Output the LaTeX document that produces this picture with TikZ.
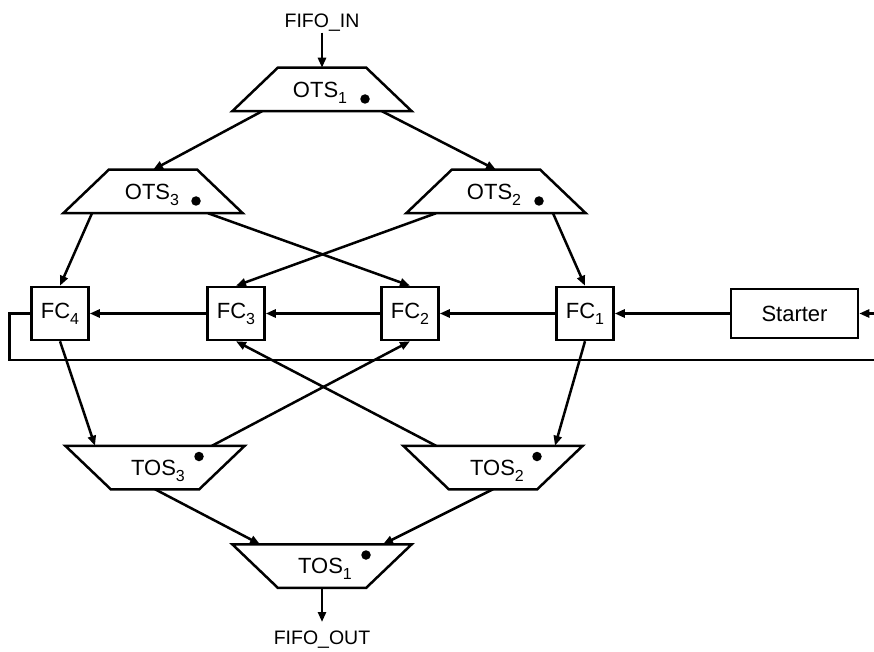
\documentclass[tikz,border=0pt]{standalone}
\usepackage{fontspec}
\setmainfont{Liberation Sans}
\usetikzlibrary{arrows.meta,calc}
\newcommand\mysub[1]{\raisebox{-6pt}{\fontsize{16}{16}\selectfont #1}}
\begin{document}
\begin{tikzpicture}[x=1pt,y=-1pt,
  line width=2.5pt,
  arr/.style={-{Triangle[length=10pt,width=8pt]}},
  trapbox/.style={minimum width=177pt,minimum height=41pt,inner sep=0pt,draw=none},
  fcbox/.style={draw,minimum width=57pt,minimum height=53pt,inner sep=0pt,font=\fontsize{22}{26}\selectfont},
  lbl/.style={font=\fontsize{22}{26}\selectfont,inner sep=0pt,anchor=base},
  io/.style={font=\fontsize{19.5}{23}\selectfont,inner sep=0pt},
  blob/.style={circle,fill,draw=none,inner sep=0pt,minimum size=9.5pt}
]
\useasboundingbox (0,0) rectangle (874,652);

% ---- trapezoid placeholders
\node[trapbox] (ots1) at (322,89.5) {};
\node[trapbox] (ots3) at (153,191.5) {};
\node[trapbox] (ots2) at (496,191.5) {};
\node[trapbox] (tos3) at (155,467.5) {};
\node[trapbox] (tos2) at (493,467.5) {};
\node[trapbox] (tos1) at (322,566) {};

% OTS shapes (narrow top)
\foreach \n in {ots1,ots2,ots3}{
  \draw (\n.south west) -- (\n.south east) -- ([xshift=-45.5pt]\n.north east)
        -- ([xshift=45.5pt]\n.north west) -- cycle;
  \node[blob] at ([xshift=43pt,yshift=-9.5pt]\n.center) {};
}
% TOS shapes (narrow bottom)
\foreach \n in {tos1,tos2,tos3}{
  \draw (\n.north west) -- (\n.north east) -- ([xshift=-45.5pt]\n.south east)
        -- ([xshift=45.5pt]\n.south west) -- cycle;
  \node[blob] at ([xshift=44pt,yshift=11pt]\n.center) {};
}

% labels
\node[lbl] (ots1t) at ([xshift=-2pt,yshift=-8pt]ots1.center) {OTS\mysub{1}};
\node[lbl] (ots2t) at ([xshift=-2pt,yshift=-8pt]ots2.center) {OTS\mysub{2}};
\node[lbl] (ots3t) at ([xshift=-1pt,yshift=-8pt]ots3.center) {OTS\mysub{3}};
\node[lbl] (tos1t) at ([xshift=3pt,yshift=-7.5pt]tos1.center) {TOS\mysub{1}};
\node[lbl] (tos2t) at ([xshift=4pt,yshift=-7.5pt]tos2.center) {TOS\mysub{2}};
\node[lbl] (tos3t) at ([xshift=3pt,yshift=-7.5pt]tos3.center) {TOS\mysub{3}};

% FC boxes and starter
\node[fcbox] (fc4) at (60,313.5) {FC\mysub{4}};
\node[fcbox] (fc3) at (236,313.5) {FC\mysub{3}};
\node[fcbox] (fc2) at (410,313.5) {FC\mysub{2}};
\node[fcbox] (fc1) at (585,313.5) {FC\mysub{1}};
\node[fcbox,minimum width=127pt,minimum height=49pt] (starter) at (794.5,313.5) {Starter};

% I/O
\node[io,anchor=base] (fifoin) at (322,27.5) {FIFO\_IN};
\node[io,anchor=north,inner ysep=8pt] (fifoout) at (322,622) {FIFO\_OUT};

% ---- connectors
\draw[arr] (fifoin.south) -- (ots1.north);
\draw[arr] (tos1.south) -- (fifoout.north);

\draw[arr] ([xshift=-60pt]ots1.south) -- (ots3.north);
\draw[arr] ([xshift=60pt]ots1.south) -- (ots2.north);

\draw[arr] ([xshift=-61pt]ots3.south) -- (fc4.north);
\draw[arr] ([xshift=55pt]ots3.south) -- (fc2.north);
\draw[arr] ([xshift=-60pt]ots2.south) -- (fc3.north);
\draw[arr] ([xshift=57pt]ots2.south) -- (fc1.north);

\draw[arr] (starter) -- (fc1);
\draw[arr] (fc1) -- (fc2);
\draw[arr] (fc2) -- (fc3);
\draw[arr] (fc3) -- (fc4);

\coordinate (fbr) at (880,360);
\draw[arr] (fc4.west) -- ++(-21,0) |- (fbr) |- (starter.east);

\draw[arr] (fc4.south) -- ([xshift=-60pt]tos3.north);
\draw[arr] ([xshift=57pt]tos3.north) -- (fc2.south);
\draw[arr] ([xshift=-57pt]tos2.north) -- (fc3.south);
\draw[arr] (fc1.south) -- ([xshift=62pt]tos2.north);

\draw[arr] (tos3.south) -- ([xshift=-62pt]tos1.north);
\draw[arr] (tos2.south) -- ([xshift=61pt]tos1.north);
\end{tikzpicture}
\end{document}
